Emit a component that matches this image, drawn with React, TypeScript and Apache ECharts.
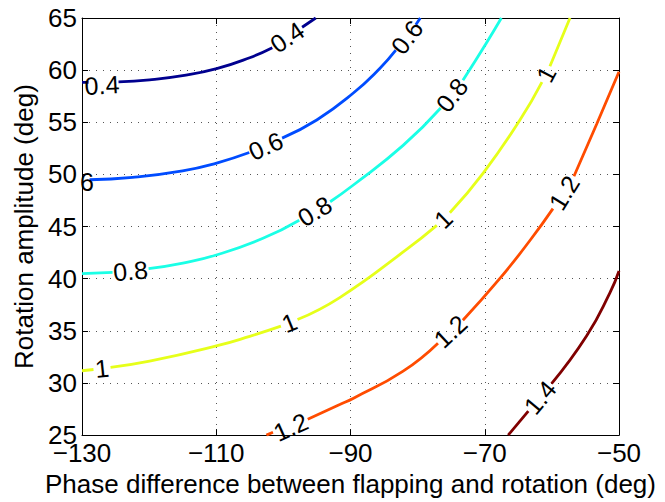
import React, { useEffect, useRef } from 'react';
import * as echarts from 'echarts';

const xTicks = [-130, -110, -90, -70, -50];
const yTicks = [25, 30, 35, 40, 45, 50, 55, 60, 65];
const levels = ['0.4', '0.6', '0.8', '1', '1.2', '1.4'];
const levelColors = ['#00008F', '#004CFF', '#1AFFE6', '#E6FF1A', '#FF4C00', '#800000'];

const GAP = ['-', '-'];
// contour lines; GAP marks where a level label breaks the line
const c04 = [[-130, 58.83], [-129.03, 58.83], GAP, [-124.56, 58.88], [-119.93, 59.07], [-115.01, 59.47], [-109.94, 60.14], [-105.02, 61.19], [-101.65, 62.15], GAP, [-97.21, 64.11], [-95.18, 65]];
const c06 = [[-128.88, 49.49], [-122.47, 49.72], [-115.01, 50.34], [-109.94, 51.09], [-105.08, 52.1], GAP, [-100.19, 53.48], [-95.03, 55.22], [-89.62, 57.78], [-85.64, 60.16], [-83.25, 61.91], GAP, [-80.27, 64.35], [-79.6, 65]];
const c08 = [[-130, 40.48], [-125.45, 40.61], GAP, [-120.08, 40.96], [-114.97, 41.5], [-109.99, 42.27], [-103.04, 43.87], [-97.63, 45.61], GAP, [-93.03, 47.38], [-89.62, 48.96], [-82.16, 52.78], [-76.56, 56.37], GAP, [-73.25, 59.02], [-69.73, 62.63], [-67.52, 65]];
const c10 = [[-130, 31.17], [-128.29, 31.29], GAP, [-125.75, 31.5], [-119.93, 32.09], [-109.99, 33.55], [-105.02, 34.47], [-100.37, 35.45], GAP, [-97.89, 36.08], [-91.6, 38.19], [-81.65, 42.8], [-77.14, 45.11], GAP, [-75.2, 46.32], [-70.23, 50.13], [-64.76, 55.22], [-61.48, 58.86], GAP, [-60.29, 60.38], [-57.3, 65]];
const c12 = [[-102.53, 25.0], [-101.55, 25.27], GAP, [-96.37, 26.51], [-91.6, 27.94], [-89.62, 28.52], [-82.16, 31.14], [-76.97, 33.82], GAP, [-73.26, 36.02], [-67.74, 40.03], [-63.27, 43.66], [-59.84, 46.72], GAP, [-56.71, 49.83], [-53.32, 54.84], [-50, 59.85]];
const c14 = [[-66.51, 25.0], [-63.51, 27.29], GAP, [-60.05, 29.93], [-54.81, 34.52], [-51.34, 38.66], [-50, 40.73]];
const contours = [c04, c06, c08, c10, c12, c14];

// in-line level labels
const labelText = ['0.4', '0.4', '6', '0.6', '0.6', '0.8', '0.8', '0.8', '1', '1', '1', '1', '1.2', '1.2', '1.2', '1.4'];
const labelX = [-127.02, -99.43, -129.25, -102.64, -81.6, -122.77, -95.33, -74.9, -127.02, -99.13, -76.17, -60.88, -98.91, -75.12, -58.2, -61.78];
const labelY = [58.57, 63.16, 49.25, 52.74, 63.16, 40.75, 46.49, 57.61, 31.4, 35.8, 45.72, 59.62, 25.79, 34.95, 48.25, 28.61];
const labelAngle = [3, 34, 0, 24, 53, 5, 31, 52, 6, 22, 44, 62, 24, 43, 58, 50];

const FONT = "'Liberation Sans', Arial, Helvetica, sans-serif";

export default function App() {
  const ref = useRef<HTMLDivElement>(null);
  useEffect(() => {
    document.body.style.margin = '0';
    const chart = echarts.init(ref.current!, null, { renderer: 'svg' });
    const fmtX = (v: number) => String(v).replace('-', '\u2212');
    const lineSeries = contours.map((d, i) => ({
      type: 'line',
      name: levels[i],
      data: d,
      symbol: 'none',
      showSymbol: false,
      smooth: 0.5,
      connectNulls: false,
      clip: true,
      silent: true,
      lineStyle: { color: levelColors[i], width: 2.8 },
      z: 2,
    }));
    const labelSeries = {
      type: 'scatter',
      symbolSize: 1,
      itemStyle: { color: 'rgba(0,0,0,0)' },
      silent: true,
      clip: false,
      z: 4,
      data: labelText.map((t, i) => ({
        value: [labelX[i], labelY[i]],
        label: { formatter: t, rotate: labelAngle[i] },
      })),
      label: {
        show: true,
        position: 'inside',
        align: 'center',
        verticalAlign: 'middle',
        color: '#000',
        opacity: 1,
        fontSize: 25,
        fontFamily: FONT,
      },
      labelLayout: { hideOverlap: false },
    };
    const tickFont = { color: '#000', fontSize: 26, fontFamily: FONT };
    chart.setOption({
      animation: false,
      backgroundColor: '#fff',
      grid: { left: 82, right: 46, top: 18, bottom: 66, containLabel: false },
      xAxis: [
        {
          type: 'value', min: -130, max: -50, position: 'bottom',
          axisLine: { show: true, onZero: false, lineStyle: { color: '#000', width: 1 } },
          axisTick: { show: true, inside: true, length: 6, customValues: xTicks, lineStyle: { color: '#000' } },
          axisLabel: { customValues: xTicks, formatter: fmtX, margin: 5, ...tickFont },
          splitLine: { show: true, lineStyle: { color: '#555', width: 1, type: [1, 6] } },
          name: 'Phase difference between flapping and rotation (deg)',
          nameLocation: 'middle', nameGap: 34,
          nameTextStyle: { ...tickFont },
        },
        {
          type: 'value', min: -130, max: -50, position: 'top',
          axisLine: { show: true, onZero: false, lineStyle: { color: '#000', width: 1 } },
          axisTick: { show: true, inside: true, length: 6, customValues: xTicks, lineStyle: { color: '#000' } },
          axisLabel: { show: false },
          splitLine: { show: false },
        },
      ],
      yAxis: [
        {
          type: 'value', min: 25, max: 65, interval: 5, position: 'left',
          axisLine: { show: true, onZero: false, lineStyle: { color: '#000', width: 1 } },
          axisTick: { show: true, inside: true, length: 6, customValues: yTicks, lineStyle: { color: '#000' } },
          axisLabel: { customValues: yTicks, margin: 5, ...tickFont },
          splitLine: { show: true, lineStyle: { color: '#555', width: 1, type: [1, 6] } },
          name: 'Rotation amplitude (deg)',
          nameLocation: 'middle', nameGap: 44,
          nameTextStyle: { ...tickFont },
        },
        {
          type: 'value', min: 25, max: 65, interval: 5, position: 'right',
          axisLine: { show: true, onZero: false, lineStyle: { color: '#000', width: 1 } },
          axisTick: { show: true, inside: true, length: 6, customValues: yTicks, lineStyle: { color: '#000' } },
          axisLabel: { show: false },
          splitLine: { show: false },
        },
      ],
      series: [...lineSeries, labelSeries],
    });
    return () => chart.dispose();
  }, []);
  return <div ref={ref} style={{ width: 665, height: 502 }} />;
}
